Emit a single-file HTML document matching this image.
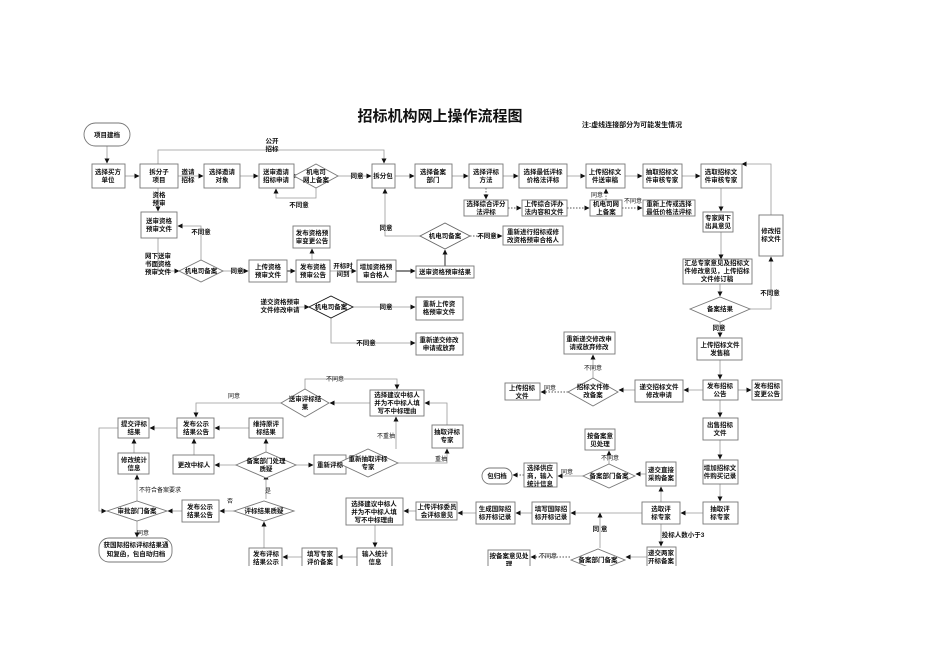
<!DOCTYPE html>
<html><head><meta charset="utf-8"><style>
html,body{margin:0;padding:0;background:#fff;width:950px;height:672px;overflow:hidden}
svg{display:block}
text{font-family:"Liberation Sans","Noto Sans CJK SC",sans-serif;font-size:6.5px;fill:#111;text-anchor:middle;font-weight:bold}
.b rect{fill:#fff;stroke:#777;stroke-width:0.9}
.d polygon{fill:#fff;stroke:#777;stroke-width:0.9}
.l{fill:none;stroke:#999;stroke-width:0.8}
.k{fill:none;stroke:#111;stroke-width:0.9}
.s{fill:none;stroke:#555;stroke-width:0.9;stroke-dasharray:1.5 1.5}
.t{font-size:6px;font-weight:normal}
</style></head><body>
<svg width="950" height="672" viewBox="0 0 950 672">
<defs><marker id="a" markerWidth="5" markerHeight="5" refX="4.5" refY="2.5" orient="auto" markerUnits="userSpaceOnUse"><path d="M0,0L5,2.5L0,5z" fill="#111"/></marker></defs>
<text x="440" y="121" style="font-size:15px;font-weight:bold;fill:#111">招标机构网上操作流程图</text>
<text x="632" y="127" style="font-size:7px">注:虚线连接部分为可能发生情况</text>
<g clip-path="url(#c)">
<clipPath id="c"><rect x="0" y="0" width="950" height="566"/></clipPath>
<g class="l" marker-end="url(#a)">
<path d="M107,146V163"/><path d="M125,176H139"/><path d="M158,164V150H384V163"/>
<path d="M178,176H203"/><path d="M240,176H258"/>
<path d="M294,176H298"/><path d="M316,188V198H276V189"/><path d="M338,176H371"/>
<path d="M395,176H414"/><path d="M452,176H468"/><path d="M503,176H518"/><path d="M567,176H585"/>
<path d="M625,176H642"/><path d="M682,176H700"/><path d="M158,188V211"/>
<path d="M201,260V226H178"/><path d="M158,238V271H179"/><path d="M223,271H248"/>
<path d="M312,260V249"/><path d="M330,271H356"/><path d="M420,236H385V189"/>
<path d="M721,188V211"/><path d="M721,232V259"/><path d="M720,284V296"/>
<path d="M750,309H771V257"/><path d="M771,215V164H742"/><path d="M720,322V337"/>
<path d="M720,360V379"/><path d="M738,390H751"/><path d="M703,390H684"/><path d="M635,390H619"/>
<path d="M593,378V355"/><path d="M720,400V417"/><path d="M720,440V459"/><path d="M720,484V501"/>
<path d="M703,513H681"/><path d="M661,502V487"/><path d="M646,474H636"/><path d="M609,464V451"/>
<path d="M642,513H571"/><path d="M532,513H516"/><path d="M476,513H458"/><path d="M416,511H404"/>
<path d="M661,524V546"/><path d="M647,557H626"/><path d="M600,548V513"/>
<path d="M375,525V547"/><path d="M357,557H338"/><path d="M302,557H283"/><path d="M264,548V522"/>
<path d="M234,511H220"/><path d="M182,511H168"/><path d="M137,521V537"/><path d="M137,501V475"/>
<path d="M134,453V439"/><path d="M266,452V439"/><path d="M249,428H215"/><path d="M177,428H150"/>
<path d="M236,465H215"/><path d="M296,465H313"/><path d="M346,465H338"/><path d="M398,463H447V449"/>
<path d="M447,425V403H425"/><path d="M396,449V417"/><path d="M370,403H330"/><path d="M281,403H196V417"/>
<path d="M305,389V379H397V389"/><path d="M266,499V475"/><path d="M194,455V439"/>
<path d="M118,428H99V511H106"/><path d="M296,307H309"/><path d="M353,307H415"/><path d="M331,318V343H415"/>
<path d="M583,476H558"/>
</g>
<g class="k" marker-end="url(#a)">
<path d="M287,271H295"/><path d="M396,271H415"/><path d="M445,266V250"/>
</g>
<g class="s" marker-end="url(#a)">
<path d="M486,188V199"/><path d="M508,208H521"/><path d="M567,208H589"/><path d="M622,208H642"/>
<path d="M606,200V189"/><path d="M470,236H502"/><path d="M568,392H541"/><path d="M524,475H513"/><path d="M570,557H531"/>
</g>
<g class="b">
<rect x="92" y="164" width="33" height="24"/><rect x="140" y="164" width="38" height="24"/>
<rect x="204" y="164" width="36" height="24"/><rect x="259" y="164" width="35" height="24"/>
<rect x="372" y="164" width="23" height="24"/><rect x="415" y="164" width="37" height="24"/>
<rect x="469" y="164" width="34" height="24"/><rect x="519" y="164" width="48" height="24"/>
<rect x="586" y="164" width="39" height="24"/><rect x="643" y="164" width="39" height="24"/>
<rect x="701" y="164" width="41" height="24"/>
<rect x="464" y="200" width="44" height="16"/><rect x="522" y="200" width="45" height="16"/>
<rect x="590" y="200" width="32" height="16"/><rect x="643" y="200" width="52" height="16"/>
<rect x="141" y="212" width="36" height="26"/><rect x="249" y="260" width="38" height="22"/>
<rect x="293" y="226" width="37" height="22"/><rect x="296" y="260" width="34" height="22"/>
<rect x="357" y="260" width="39" height="22"/><rect x="416" y="266" width="58" height="12"/>
<rect x="503" y="226" width="60" height="19"/>
<rect x="703" y="212" width="30" height="20"/><rect x="683" y="259" width="69" height="25"/>
<rect x="759" y="215" width="24" height="41"/>
<rect x="697" y="338" width="45" height="22"/><rect x="703" y="380" width="35" height="20"/>
<rect x="752" y="380" width="30" height="20"/><rect x="635" y="380" width="48" height="22"/>
<rect x="505" y="383" width="35" height="17"/><rect x="564" y="332" width="51" height="22"/>
<rect x="703" y="418" width="35" height="22"/><rect x="703" y="460" width="35" height="24"/>
<rect x="703" y="502" width="35" height="22"/><rect x="642" y="502" width="38" height="22"/>
<rect x="646" y="462" width="30" height="24"/><rect x="585" y="429" width="30" height="21"/>
<rect x="524" y="463" width="33" height="24"/>
<rect x="532" y="502" width="38" height="22"/><rect x="476" y="502" width="39" height="22"/>
<rect x="647" y="547" width="29" height="22"/><rect x="488" y="550" width="42" height="20"/>
<rect x="416" y="297" width="47" height="23"/><rect x="416" y="333" width="47" height="22"/>
<rect x="370" y="390" width="54" height="26"/><rect x="118" y="418" width="31" height="20"/>
<rect x="177" y="418" width="37" height="20"/><rect x="249" y="418" width="34" height="20"/>
<rect x="432" y="425" width="31" height="23"/><rect x="118" y="453" width="31" height="21"/>
<rect x="173" y="455" width="41" height="19"/><rect x="314" y="455" width="32" height="19"/>
<rect x="182" y="500" width="37" height="22"/><rect x="346" y="498" width="57" height="27"/>
<rect x="416" y="502" width="41" height="18"/><rect x="249" y="548" width="33" height="22"/>
<rect x="302" y="548" width="35" height="22"/><rect x="357" y="548" width="35" height="22"/>
<rect x="84" y="123" width="46" height="23" rx="11.5"/><rect x="482" y="468" width="30" height="16" rx="8"/>
<rect x="99" y="538" width="73" height="24" rx="10"/>
</g>
<g class="d">
<polygon points="294,176 316,164 338,176 316,188"/><polygon points="179,271 201,260 223,271 201,282"/>
<polygon points="420,236 445,223 470,236 445,249" style="stroke:#666"/>
<polygon points="309,307 331,296 353,307 331,318" style="stroke:#111"/>
<polygon points="690,309 720,297 750,309 720,322"/><polygon points="568,392 593,378 618,392 593,406"/>
<polygon points="583,476 609,464 635,476 609,488"/><polygon points="571,560 598,549 625,560 598,571"/>
<polygon points="281,403 305,389 329,403 305,417"/><polygon points="236,465 266,452 296,465 266,478"/>
<polygon points="338,463 368,449 398,463 368,477"/><polygon points="107,511 137,501 167,511 137,521"/>
<polygon points="234,511 264,501 294,511 264,521"/>
</g>
<g>
<text x="107" y="137">项目建档</text>
<text x="108" y="174">选择买方<tspan x="108" dy="8">单位</tspan></text>
<text x="159" y="174">拆分子<tspan x="159" dy="8">项目</tspan></text>
<text x="188" y="174">邀请<tspan x="188" dy="8">招标</tspan></text>
<text x="222" y="174">选择邀请<tspan x="222" dy="8">对象</tspan></text>
<text x="276" y="174">送审邀请<tspan x="276" dy="8">招标申请</tspan></text>
<text x="316" y="174">机电司<tspan x="316" dy="8">网上备案</tspan></text>
<text x="357" y="178">同意</text>
<text x="272" y="143">公开<tspan x="272" dy="8">招标</tspan></text>
<text x="383" y="178">拆分包</text>
<text x="433" y="174">选择备案<tspan x="433" dy="8">部门</tspan></text>
<text x="486" y="174">选择评标<tspan x="486" dy="8">方法</tspan></text>
<text x="543" y="174">选择最低评标<tspan x="543" dy="8">价格法评标</tspan></text>
<text x="605" y="174">上传招标文<tspan x="605" dy="8">件送审稿</tspan></text>
<text x="662" y="174">抽取招标文<tspan x="662" dy="8">件审核专家</tspan></text>
<text x="721" y="174">选取招标文<tspan x="721" dy="8">件审核专家</tspan></text>
<text x="486" y="206">选择综合评分<tspan x="486" dy="8">法评标</tspan></text>
<text x="544" y="206">上传综合评办<tspan x="544" dy="8">法内容和文件</tspan></text>
<text x="606" y="206">机电司网<tspan x="606" dy="8">上备案</tspan></text>
<text x="669" y="206">重新上传或选择<tspan x="669" dy="8">最低价格法评标</tspan></text>
<text x="597" y="197" class="t">同意</text><text x="633" y="203" class="t">不同意</text>
<text x="299" y="207">不同意</text>
<text x="159" y="197">资格<tspan x="159" dy="8">预审</tspan></text>
<text x="159" y="223">送审资格<tspan x="159" dy="8">预审文件</tspan></text>
<text x="201" y="234">不同意</text>
<text x="158" y="258">网下送审<tspan x="158" dy="8">书面资格</tspan><tspan x="158" dy="8">预审文件</tspan></text>
<text x="201" y="273">机电司备案</text><text x="237" y="273">同意</text>
<text x="268" y="269">上传资格<tspan x="268" dy="8">预审文件</tspan></text>
<text x="312" y="235">发布资格预<tspan x="312" dy="8">审变更公告</tspan></text>
<text x="313" y="269">发布资格<tspan x="313" dy="8">预审公告</tspan></text>
<text x="343" y="268">开标时<tspan x="343" dy="8">间到</tspan></text>
<text x="376" y="269">增加资格预<tspan x="376" dy="8">审合格人</tspan></text>
<text x="445" y="274">送审资格预审结果</text>
<text x="445" y="238">机电司备案</text><text x="487" y="238">不同意</text>
<text x="533" y="234">重新进行招标或修<tspan x="533" dy="8">改资格预审合格人</tspan></text>
<text x="386" y="230">同意</text>
<text x="718" y="220">专家网下<tspan x="718" dy="8">出具意见</tspan></text>
<text x="717" y="265">汇总专家意见及招标文<tspan x="717" dy="8">件修改意见，上传招标</tspan><tspan x="717" dy="8">文件修订稿</tspan></text>
<text x="771" y="233">修改招<tspan x="771" dy="8">标文件</tspan></text>
<text x="770" y="295">不同意</text>
<text x="720" y="311">备案结果</text><text x="719" y="330">同意</text>
<text x="720" y="347">上传招标文件<tspan x="720" dy="8">发售稿</tspan></text>
<text x="720" y="388">发布招标<tspan x="720" dy="8">公告</tspan></text>
<text x="767" y="388">发布招标<tspan x="767" dy="8">变更公告</tspan></text>
<text x="659" y="389">递交招标文件<tspan x="659" dy="8">修改申请</tspan></text>
<text x="593" y="389">招标文件修<tspan x="593" dy="8">改备案</tspan></text>
<text x="522" y="390">上传招标<tspan x="522" dy="8">文件</tspan></text>
<text x="550" y="390" class="t">同意</text><text x="593" y="370" class="t">不同意</text>
<text x="589" y="341">重新递交修改申<tspan x="589" dy="8">请或放弃修改</tspan></text>
<text x="720" y="427">出售招标<tspan x="720" dy="8">文件</tspan></text>
<text x="720" y="470">增加招标文<tspan x="720" dy="8">件购买记录</tspan></text>
<text x="720" y="511">抽取评<tspan x="720" dy="8">标专家</tspan></text>
<text x="661" y="511">选取评<tspan x="661" dy="8">标专家</tspan></text>
<text x="661" y="472">递交直接<tspan x="661" dy="8">采购备案</tspan></text>
<text x="609" y="478">备案部门备案</text><text x="610" y="460" class="t">不同意</text>
<text x="600" y="438">按备案意<tspan x="600" dy="8">见处理</tspan></text>
<text x="540" y="470">选择供应<tspan x="540" dy="8">商，输入</tspan><tspan x="540" dy="8">统计信息</tspan></text>
<text x="567" y="474" class="t">同意</text><text x="497" y="478">包归档</text>
<text x="551" y="511">填写国际招<tspan x="551" dy="8">标开标记录</tspan></text>
<text x="495" y="511">生成国际招<tspan x="495" dy="8">标开标记录</tspan></text>
<text x="600" y="531">同 意</text><text x="683" y="537">投标人数小于3</text>
<text x="661" y="555">递交两家<tspan x="661" dy="8">开标备案</tspan></text>
<text x="598" y="562">备案部门备案</text><text x="548" y="558" class="t">不同意</text>
<text x="509" y="558">按备案意见处<tspan x="509" dy="8">理</tspan></text>
<text x="280" y="304">递交资格预审<tspan x="280" dy="8">文件修改申请</tspan></text>
<text x="331" y="309">机电司备案</text><text x="386" y="309">同意</text>
<text x="439" y="306">重新上传资<tspan x="439" dy="8">格预审文件</tspan></text>
<text x="366" y="345">不同意</text>
<text x="439" y="342">重新递交修改<tspan x="439" dy="8">申请或放弃</tspan></text>
<text x="335" y="381" class="t">不同意</text><text x="234" y="398" class="t">同意</text>
<text x="305" y="401">送审评标结<tspan x="305" dy="8">果</tspan></text>
<text x="397" y="397">选择建议中标人<tspan x="397" dy="8">并为不中标人填</tspan><tspan x="397" dy="8">写不中标理由</tspan></text>
<text x="134" y="426">提交评标<tspan x="134" dy="8">结果</tspan></text>
<text x="196" y="426">发布公示<tspan x="196" dy="8">结果公告</tspan></text>
<text x="266" y="426">维持原评<tspan x="266" dy="8">标结果</tspan></text>
<text x="447" y="434">抽取评标<tspan x="447" dy="8">专家</tspan></text>
<text x="386" y="438" class="t">不重抽</text><text x="441" y="461" class="t">重抽</text>
<text x="134" y="462">修改统计<tspan x="134" dy="8">信息</tspan></text>
<text x="194" y="467">更改中标人</text>
<text x="266" y="463">备案部门处理<tspan x="266" dy="8">质疑</tspan></text>
<text x="330" y="467">重新评标</text>
<text x="368" y="461">重新抽取评标<tspan x="368" dy="8">专家</tspan></text>
<text x="160" y="492" class="t">不符合备案要求</text>
<text x="137" y="513">审批部门备案</text>
<text x="200" y="509">发布公示<tspan x="200" dy="8">结果公告</tspan></text>
<text x="230" y="503" class="t">否</text><text x="268" y="493" class="t">是</text>
<text x="264" y="513">评标结果质疑</text>
<text x="143" y="535" class="t">同意</text>
<text x="136" y="547">获国际招标评标结果通<tspan x="136" dy="9">知复函，包自动归档</tspan></text>
<text x="374" y="506">选择建议中标人<tspan x="374" dy="8">并为不中标人填</tspan><tspan x="374" dy="8">写不中标理由</tspan></text>
<text x="437" y="509">上传评标委员<tspan x="437" dy="8">会评标意见</tspan></text>
<text x="266" y="556">发布评标<tspan x="266" dy="8">结果公示</tspan></text>
<text x="320" y="556">填写专家<tspan x="320" dy="8">评价备案</tspan></text>
<text x="375" y="556">输入统计<tspan x="375" dy="8">信息</tspan></text>
</g>
</g>
</svg>
</body></html>
